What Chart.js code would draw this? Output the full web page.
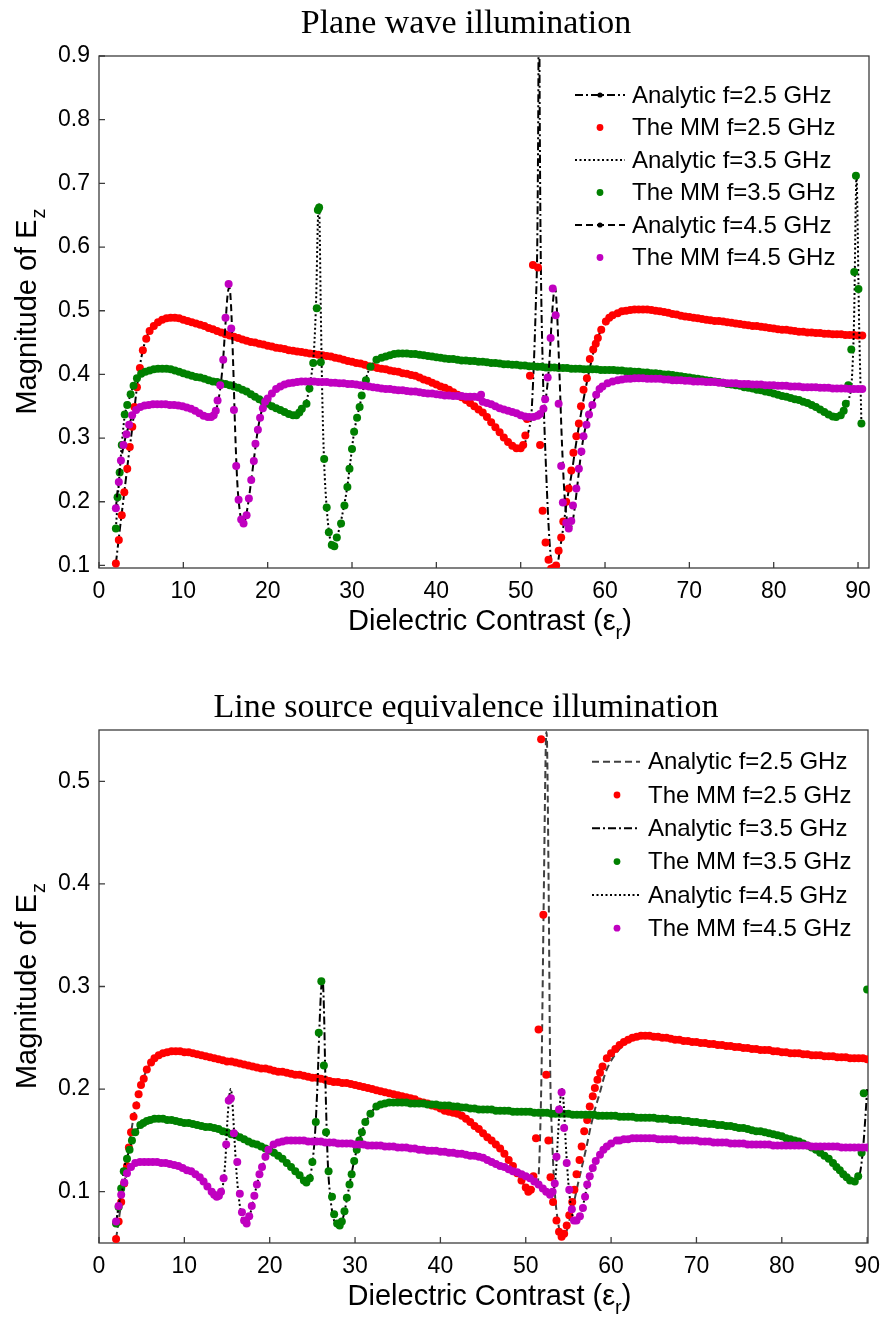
<!DOCTYPE html>
<html><head><meta charset="utf-8">
<script src="https://cdn.jsdelivr.net/npm/chart.js@4.4.1/dist/chart.umd.min.js"></script>
<style>
html,body{margin:0;padding:0;background:#fff;}
#wrap{position:relative;width:884px;height:1318px;background:#fff;}
canvas{position:absolute;left:0;}
</style></head><body>
<div id="wrap">
<canvas id="c1" width="884" height="660" style="top:0px"></canvas>
<canvas id="c2" width="884" height="658" style="top:660px"></canvas>
</div>
<script>
// ---------- tick labels ----------
const xTickVals = [0,10,20,30,40,50,60,70,80,90];
const topYTickVals = [0.1,0.2,0.3,0.4,0.5,0.6,0.7,0.8,0.9];
const botYTickVals = [0.1,0.2,0.3,0.4,0.5];
const legendLabels = ["Analytic f=2.5 GHz","The MM f=2.5 GHz","Analytic f=3.5 GHz","The MM f=3.5 GHz","Analytic f=4.5 GHz","The MM f=4.5 GHz"];

// ---------- TOP chart: plane wave ----------
const topMM25 = [[2.0,.103],[2.35,.14],[2.7,.179],[3.0,.215],[3.35,.252],[3.65,.286],[3.95,.318],[4.2,.349],[4.5,.38],[4.85,.41],[5.2,.438],[5.6,.456],[6.0,.468],[6.5,.476],[7.0,.482],[7.5,.486],[8.0,.488],[8.5,.489],[9.0,.489],[9.5,.488],[10,.486],[10.5,.484],[11,.482],[11.5,.48],[12,.478],[12.5,.476],[13,.473],[13.5,.471],[14,.468],[14.5,.466],[15,.463],[15.5,.461],[16,.459],[16.5,.457],[17,.455],[17.5,.453],[18,.451],[18.5,.45],[19,.448],[19.5,.447],[20,.445],[20.5,.444],[21,.442],[21.5,.441],[22,.44],[22.5,.438],[23,.437],[23.5,.436],[24,.435],[24.5,.434],[25,.433],[25.5,.432],[26,.431],[26.5,.43],[27,.429],[27.5,.428],[28,.426],[28.5,.425],[29,.423],[29.5,.421],[30,.42],[30.5,.418],[31,.417],[31.5,.415],[32,.413],[32.5,.412],[33,.41],[33.5,.409],[34,.408],[34.5,.406],[35,.405],[35.5,.404],[36,.402],[36.5,.401],[37,.399],[37.5,.398],[38,.395],[38.5,.392],[39,.39],[39.5,.387],[40,.384],[40.5,.381],[41,.379],[41.5,.376],[42,.372],[42.5,.368],[43,.364],[43.5,.36],[44,.355],[44.5,.35],[45,.345],[45.5,.34],[46,.333],[46.5,.325],[47,.317],[47.5,.309],[48,.301],[48.5,.294],[49,.288],[49.5,.284],[50,.284],[50.3,.289],[50.55,.304],[50.75,.33],[51.1,.398],[51.45,.572],[52.05,.568],[52.3,.289],[52.6,.186],[52.95,.136],[53.3,.109],[53.6,.095],[53.85,.096],[54.2,.1],[54.5,.123],[54.8,.144],[55.05,.169],[55.4,.2],[55.7,.221],[56.0,.249],[56.25,.277],[56.6,.303],[56.9,.323],[57.15,.35],[57.45,.376],[57.85,.394],[58.2,.424],[58.6,.439],[58.9,.448],[59.15,.457],[59.55,.47],[60.1,.483],[60.5,.489],[60.9,.493],[61.5,.496],[62,.499],[62.5,.5],[63,.501],[63.5,.502],[64,.502],[64.5,.502],[65,.502],[65.5,.501],[66,.5],[66.5,.499],[67,.498],[67.5,.497],[68,.495],[68.5,.494],[69,.492],[69.5,.491],[70,.49],[70.5,.489],[71,.488],[71.5,.487],[72,.486],[72.5,.485],[73,.484],[73.5,.484],[74,.483],[74.5,.482],[75,.481],[75.5,.48],[76,.479],[76.5,.478],[77,.477],[77.5,.476],[78,.476],[78.5,.475],[79,.474],[79.5,.473],[80,.472],[80.5,.471],[81,.47],[81.5,.47],[82,.469],[82.5,.468],[83,.467],[83.5,.467],[84,.466],[84.5,.466],[85,.465],[85.5,.465],[86,.464],[86.5,.464],[87,.463],[87.5,.463],[88,.463],[88.5,.462],[89,.462],[89.5,.462],[90,.461],[90.5,.461]];
const topAn25 = [[2.0,.103],[2.5,.16],[3.0,.215],[3.5,.27],[4.0,.322],[4.5,.38],[5.0,.425],[5.5,.453],[6.0,.468],[7.0,.482],[8.5,.489],[10,.486],[15,.463],[20,.445],[25,.433],[30,.42],[35,.405],[38,.395],[40,.384],[42,.372],[44,.355],[46,.333],[48,.301],[49,.288],[49.6,.284],[50.1,.286],[50.6,.296],[51.0,.315],[51.26,.336],[51.54,.41],[51.78,.504],[51.97,.61],[52.08,.8],[52.17,1.05],[52.26,.8],[52.36,.61],[52.64,.4],[53.04,.241],[53.43,.136],[53.83,.091],[54.1,.09],[54.35,.1],[54.6,.12],[55.0,.155],[55.4,.194],[56.0,.241],[56.6,.294],[57.4,.357],[58.2,.41],[58.96,.452],[59.5,.468],[60.1,.48],[61,.492],[62,.499],[64,.502],[66,.5],[70,.49],[75,.481],[80,.472],[85,.465],[90.5,.461]];
const topMM35 = [[2.0,.158],[2.2,.207],[2.45,.246],[2.7,.289],[3.05,.337],[3.35,.352],[3.75,.369],[4.1,.382],[4.5,.394],[5.0,.401],[5.5,.404],[6.0,.406],[6.5,.408],[7.0,.409],[7.5,.409],[8.0,.409],[8.5,.408],[9.0,.406],[9.5,.404],[10,.402],[10.5,.4],[11,.398],[11.5,.396],[12,.395],[12.5,.393],[13,.391],[13.5,.389],[14,.388],[14.5,.386],[15,.385],[15.5,.383],[16,.381],[16.5,.379],[17,.376],[17.5,.373],[18,.369],[18.5,.365],[19,.361],[19.5,.357],[20,.354],[20.5,.35],[21,.347],[21.5,.344],[22,.341],[22.5,.338],[23,.336],[23.4,.336],[23.75,.34],[24.05,.346],[24.6,.354],[24.95,.378],[25.4,.418],[25.82,.504],[25.95,.658],[26.1,.662],[26.3,.419],[26.7,.267],[27.0,.191],[27.25,.152],[27.6,.132],[27.9,.13],[28.2,.144],[28.7,.166],[29.1,.194],[29.45,.223],[29.7,.252],[30.0,.283],[30.25,.31],[30.6,.332],[30.9,.349],[31.15,.367],[31.65,.391],[32.2,.412],[32.9,.423],[33.5,.426],[34,.428],[34.5,.43],[35,.432],[35.5,.433],[36,.433],[36.5,.433],[37,.432],[37.5,.432],[38,.431],[38.5,.43],[39,.429],[39.5,.428],[40,.427],[40.5,.426],[41,.425],[41.5,.424],[42,.424],[42.5,.423],[43,.422],[43.5,.422],[44,.421],[44.5,.421],[45,.42],[45.5,.42],[46,.419],[46.5,.418],[47,.418],[47.5,.417],[48,.416],[48.5,.416],[49,.415],[49.5,.415],[50,.414],[50.5,.414],[51,.413],[51.5,.413],[52,.412],[52.5,.412],[53,.411],[53.5,.411],[54,.411],[54.5,.41],[55,.41],[55.5,.41],[56,.409],[56.5,.409],[57,.409],[57.5,.408],[58,.408],[58.5,.408],[59,.408],[59.5,.407],[60,.407],[60.5,.407],[61,.407],[61.5,.406],[62,.406],[62.5,.405],[63,.405],[63.5,.404],[64,.404],[64.5,.403],[65,.403],[65.5,.402],[66,.402],[66.5,.401],[67,.4],[67.5,.4],[68,.399],[68.5,.398],[69,.397],[69.5,.396],[70,.395],[70.5,.394],[71,.393],[71.5,.392],[72,.391],[72.5,.39],[73,.389],[73.5,.388],[74,.387],[74.5,.385],[75,.384],[75.5,.383],[76,.382],[76.5,.38],[77,.379],[77.5,.378],[78,.376],[78.5,.375],[79,.373],[79.5,.372],[80,.37],[80.5,.368],[81,.366],[81.5,.365],[82,.363],[82.5,.361],[83,.36],[83.5,.357],[84,.355],[84.5,.352],[85,.349],[85.5,.345],[86,.341],[86.5,.337],[87,.334],[87.4,.333],[87.95,.336],[88.3,.343],[88.55,.354],[88.85,.383],[89.2,.439],[89.55,.561],[89.75,.712],[90.05,.534],[90.4,.323]];
const topAn35 = [[2.0,.158],[2.5,.256],[3.0,.33],[3.5,.358],[4.0,.379],[4.5,.394],[5.5,.404],[7.5,.409],[9.0,.406],[12,.395],[15,.385],[17,.376],[19,.361],[21,.347],[23,.336],[23.5,.336],[24.0,.343],[24.5,.355],[24.9,.375],[25.2,.4],[25.5,.44],[25.75,.52],[25.95,.64],[26.05,.668],[26.15,.64],[26.3,.5],[26.5,.35],[26.7,.26],[27.0,.19],[27.3,.15],[27.6,.132],[27.9,.13],[28.2,.143],[28.6,.164],[29.0,.19],[29.4,.22],[29.8,.262],[30.2,.305],[30.6,.333],[31.0,.356],[31.5,.386],[32.0,.407],[32.6,.42],[33.5,.426],[35.5,.433],[37,.432],[40,.427],[45,.42],[50,.414],[55,.41],[60,.407],[65,.403],[70,.395],[75,.384],[80,.37],[83,.36],[85,.349],[86.5,.337],[87.4,.333],[88.0,.337],[88.5,.345],[88.9,.36],[89.3,.4],[89.55,.5],[89.72,.66],[89.82,.715],[89.92,.66],[90.1,.5],[90.4,.323]];
const topMM45 = [[2.0,.19],[2.35,.231],[2.6,.265],[2.9,.289],[3.25,.306],[3.57,.321],[3.93,.336],[4.4,.344],[4.9,.349],[5.4,.351],[5.9,.352],[6.4,.353],[6.9,.353],[7.4,.353],[7.9,.353],[8.4,.352],[8.9,.352],[9.4,.351],[9.9,.35],[10.4,.348],[10.9,.346],[11.4,.343],[11.9,.339],[12.4,.335],[12.9,.333],[13.3,.333],[13.6,.336],[13.85,.343],[14.06,.359],[14.37,.383],[14.73,.423],[15.0,.489],[15.37,.542],[15.68,.472],[16.0,.344],[16.27,.256],[16.55,.203],[16.86,.172],[17.14,.166],[17.5,.179],[17.77,.205],[18.05,.234],[18.36,.264],[18.55,.291],[18.84,.313],[19.1,.332],[19.43,.347],[19.7,.357],[20.0,.362],[20.5,.37],[21.0,.377],[21.5,.381],[22.0,.384],[22.5,.386],[23.0,.387],[23.5,.388],[24,.389],[24.5,.389],[25,.389],[25.5,.389],[26,.388],[26.5,.388],[27,.388],[27.5,.387],[28,.387],[28.5,.386],[29,.386],[29.5,.385],[30,.385],[30.5,.384],[31,.383],[31.5,.382],[32,.381],[32.5,.38],[33,.379],[33.5,.378],[34,.377],[34.5,.377],[35,.376],[35.5,.375],[36,.375],[36.5,.374],[37,.373],[37.5,.373],[38,.372],[38.5,.371],[39,.37],[39.5,.37],[40,.369],[40.5,.368],[41,.367],[41.5,.367],[42,.366],[42.5,.366],[43,.366],[43.5,.365],[44,.365],[44.5,.365],[45,.364],[45.3,.368],[45.5,.357],[46,.355],[46.5,.353],[47,.35],[47.5,.347],[48,.345],[48.5,.343],[49,.341],[49.5,.339],[50,.336],[50.5,.334],[51,.333],[51.5,.333],[52.0,.335],[52.3,.338],[52.7,.346],[52.9,.361],[53.2,.395],[53.55,.457],[53.8,.535],[54.15,.493],[54.5,.354],[54.8,.256],[55.0,.199],[55.4,.167],[55.7,.158],[56.0,.17],[56.2,.194],[56.6,.221],[56.9,.252],[57.2,.279],[57.45,.303],[57.8,.321],[58.1,.337],[58.5,.352],[58.95,.368],[59.35,.377],[59.7,.381],[60.3,.386],[60.9,.389],[61.5,.391],[62,.392],[62.5,.393],[63,.393],[63.5,.394],[64,.394],[64.5,.394],[65,.393],[65.5,.393],[66,.393],[66.5,.393],[67,.392],[67.5,.392],[68,.391],[68.5,.391],[69,.391],[69.5,.39],[70,.39],[70.5,.389],[71,.389],[71.5,.389],[72,.388],[72.5,.388],[73,.388],[73.5,.387],[74,.387],[74.5,.386],[75,.386],[75.5,.386],[76,.385],[76.5,.385],[77,.385],[77.5,.384],[78,.384],[78.5,.384],[79,.383],[79.5,.383],[80,.383],[80.5,.382],[81,.382],[81.5,.382],[82,.381],[82.5,.381],[83,.381],[83.5,.38],[84,.38],[84.5,.38],[85,.38],[85.5,.379],[86,.379],[86.5,.379],[87,.378],[87.5,.378],[88,.378],[88.5,.378],[89,.377],[89.5,.377],[90,.377],[90.5,.377]];
const topAn45 = [[2.0,.19],[2.5,.255],[3.0,.293],[3.5,.318],[4.0,.336],[4.5,.345],[5.5,.351],[7.5,.353],[9.5,.351],[11,.345],[12,.338],[12.9,.333],[13.4,.333],[13.8,.34],[14.1,.356],[14.4,.38],[14.7,.42],[15.0,.48],[15.25,.525],[15.45,.537],[15.65,.51],[15.9,.42],[16.15,.31],[16.4,.23],[16.7,.185],[17.0,.165],[17.25,.168],[17.6,.19],[18.0,.228],[18.4,.27],[18.8,.31],[19.2,.338],[19.6,.355],[20.0,.362],[21,.377],[22,.384],[24,.389],[26,.388],[30,.385],[35,.376],[40,.369],[45,.364],[46,.355],[48,.345],[50,.336],[51.5,.333],[52.3,.338],[52.8,.35],[53.1,.375],[53.4,.42],[53.7,.49],[53.95,.53],[54.1,.535],[54.3,.5],[54.6,.4],[54.9,.29],[55.2,.21],[55.5,.17],[55.8,.157],[56.1,.165],[56.4,.19],[56.8,.235],[57.1,.27],[57.5,.305],[57.9,.328],[58.3,.345],[58.8,.362],[59.3,.376],[59.8,.383],[60.5,.387],[62,.392],[64,.394],[70,.39],[80,.383],[90.5,.377]];

// ---------- BOTTOM chart: line source ----------
const botMM25 = [[2.0,.054],[2.3,.071],[2.6,.09],[2.95,.108],[3.28,.125],[3.5,.143],[3.75,.158],[4.05,.173],[4.37,.184],[4.64,.195],[4.92,.204],[5.24,.21],[5.6,.219],[6.1,.226],[6.5,.23],[7.0,.233],[7.5,.235],[8.0,.236],[8.5,.237],[9.0,.237],[9.5,.237],[10,.236],[10.5,.236],[11,.235],[11.5,.234],[12,.233],[12.5,.232],[13,.231],[13.5,.23],[14,.229],[14.5,.228],[15,.227],[15.5,.227],[16,.226],[16.5,.225],[17,.224],[17.5,.223],[18,.222],[18.5,.221],[19,.22],[19.5,.22],[20,.219],[20.5,.218],[21,.217],[21.5,.217],[22,.216],[22.5,.215],[23,.214],[23.5,.214],[24,.213],[24.5,.212],[25,.211],[25.5,.211],[26,.21],[26.5,.209],[27,.208],[27.5,.207],[28,.207],[28.5,.206],[29,.206],[29.5,.205],[30,.204],[30.5,.203],[31,.202],[31.5,.201],[32,.2],[32.5,.199],[33,.198],[33.5,.197],[34,.196],[34.5,.195],[35,.194],[35.5,.193],[36,.192],[36.5,.191],[37,.19],[37.5,.188],[38,.187],[38.5,.186],[39,.184],[39.5,.183],[40,.181],[40.5,.179],[41,.178],[41.5,.177],[42,.176],[42.5,.174],[43,.171],[43.5,.168],[44,.164],[44.5,.161],[45,.157],[45.5,.153],[46,.15],[46.5,.146],[47,.142],[47.5,.137],[48,.131],[48.5,.125],[49,.118],[49.5,.111],[50,.104],[50.3,.1],[50.6,.102],[50.9,.115],[51.2,.152],[51.5,.258],[51.8,.541],[52.06,.37],[52.4,.214],[52.65,.15],[52.9,.114],[53.2,.09],[53.6,.072],[53.9,.061],[54.2,.056],[54.5,.059],[54.8,.067],[55.1,.077],[55.45,.09],[55.7,.102],[55.95,.117],[56.3,.131],[56.55,.144],[56.85,.159],[57.2,.17],[57.5,.183],[57.85,.193],[58.1,.201],[58.4,.209],[58.7,.216],[59.0,.222],[59.5,.23],[60.0,.235],[60.5,.239],[61,.243],[61.5,.246],[62,.248],[62.5,.25],[63,.251],[63.5,.252],[64,.252],[64.5,.252],[65,.251],[65.5,.251],[66,.25],[66.5,.25],[67,.249],[67.5,.248],[68,.248],[68.5,.247],[69,.247],[69.5,.246],[70,.246],[70.5,.245],[71,.245],[71.5,.244],[72,.244],[72.5,.243],[73,.243],[73.5,.242],[74,.242],[74.5,.241],[75,.241],[75.5,.24],[76,.24],[76.5,.239],[77,.239],[77.5,.238],[78,.238],[78.5,.238],[79,.237],[79.5,.237],[80,.236],[80.5,.236],[81,.235],[81.5,.235],[82,.235],[82.5,.234],[83,.234],[83.5,.233],[84,.233],[84.5,.233],[85,.232],[85.5,.232],[86,.232],[86.5,.231],[87,.231],[87.5,.231],[88,.23],[88.5,.23],[89,.23],[89.5,.23],[90,.229]];
const botAn25 = [[2.0,.054],[2.5,.083],[3.0,.11],[3.5,.143],[4.0,.17],[4.5,.19],[5.0,.205],[5.5,.217],[6.5,.23],[8.5,.237],[10,.236],[15,.227],[20,.219],[25,.211],[30,.204],[35,.194],[38,.187],[40,.181],[42,.176],[44,.164],[46,.15],[48,.131],[49,.118],[50,.104],[50.5,.1],[51.0,.103],[51.3,.108],[51.5,.115],[51.7,.16],[51.87,.228],[52.1,.38],[52.35,.535],[52.42,.548],[52.5,.535],[52.7,.38],[52.85,.228],[53.1,.15],[53.4,.1],[53.7,.075],[54.0,.061],[54.3,.055],[54.8,.062],[55.2,.075],[55.6,.088],[56.1,.107],[56.6,.125],[57.1,.143],[57.6,.163],[58.1,.18],[58.7,.197],[59.3,.215],[59.9,.226],[60.5,.234],[61.2,.241],[62,.247],[63,.25],[64,.252],[66,.25],[70,.246],[75,.241],[80,.236],[85,.232],[90,.229]];
const botMM35 = [[2.0,.069],[2.3,.085],[2.6,.103],[2.9,.12],[3.28,.132],[3.58,.141],[3.86,.15],[4.25,.158],[4.84,.165],[5.2,.167],[5.6,.169],[6.0,.17],[6.5,.171],[7.0,.171],[7.5,.171],[8.0,.17],[8.5,.17],[9.0,.169],[9.5,.168],[10,.167],[10.5,.167],[11,.166],[11.5,.165],[12,.164],[12.5,.163],[13,.163],[13.5,.162],[14,.161],[14.5,.159],[15,.158],[15.5,.156],[16,.155],[16.5,.153],[17,.151],[17.5,.149],[18,.147],[18.5,.146],[19,.144],[19.5,.142],[20,.14],[20.5,.138],[21,.135],[21.5,.132],[22,.128],[22.5,.124],[23,.12],[23.5,.116],[24,.111],[24.3,.109],[24.7,.113],[25.0,.129],[25.4,.168],[25.75,.255],[26.05,.305],[26.35,.223],[26.6,.158],[26.9,.12],[27.3,.095],[27.55,.078],[27.9,.069],[28.2,.067],[28.45,.071],[28.76,.081],[29.04,.094],[29.35,.107],[29.6,.117],[29.9,.13],[30.2,.141],[30.5,.15],[30.8,.158],[31.2,.168],[31.8,.176],[32.5,.183],[33,.185],[33.5,.186],[34,.187],[34.5,.187],[35,.187],[35.5,.187],[36,.187],[36.5,.186],[37,.186],[37.5,.186],[38,.186],[38.5,.185],[39,.185],[39.5,.185],[40,.184],[40.5,.184],[41,.184],[41.5,.183],[42,.183],[42.5,.182],[43,.182],[43.5,.181],[44,.181],[44.5,.18],[45,.18],[45.5,.18],[46,.18],[46.5,.179],[47,.179],[47.5,.179],[48,.179],[48.5,.178],[49,.178],[49.5,.178],[50,.178],[50.5,.178],[51,.177],[51.5,.177],[52,.177],[52.5,.177],[53,.176],[53.5,.176],[54,.176],[54.5,.176],[55,.176],[55.5,.175],[56,.175],[56.5,.175],[57,.175],[57.5,.175],[58,.175],[58.5,.174],[59,.174],[59.5,.174],[60,.174],[60.5,.174],[61,.173],[61.5,.173],[62,.173],[62.5,.173],[63,.172],[63.5,.172],[64,.172],[64.5,.172],[65,.172],[65.5,.171],[66,.171],[66.5,.171],[67,.17],[67.5,.17],[68,.17],[68.5,.169],[69,.169],[69.5,.168],[70,.168],[70.5,.167],[71,.167],[71.5,.166],[72,.166],[72.5,.165],[73,.165],[73.5,.164],[74,.164],[74.5,.163],[75,.162],[75.5,.162],[76,.161],[76.5,.16],[77,.159],[77.5,.159],[78,.158],[78.5,.157],[79,.156],[79.5,.155],[80,.154],[80.5,.152],[81,.151],[81.5,.15],[82,.149],[82.5,.147],[83,.145],[83.5,.143],[84,.141],[84.5,.138],[85,.135],[85.5,.132],[86,.128],[86.4,.124],[86.8,.121],[87.2,.117],[87.6,.114],[88,.111],[88.55,.11],[88.95,.115],[89.35,.138],[89.6,.196],[90,.297]];
const botAn35 = [[2.0,.069],[2.5,.097],[3.0,.125],[3.5,.139],[4.0,.152],[4.5,.161],[5.5,.168],[7,.171],[10,.167],[15,.158],[20,.14],[22,.128],[23.5,.116],[24.3,.11],[24.7,.114],[25.0,.128],[25.3,.155],[25.6,.205],[25.85,.265],[26.05,.3],[26.2,.307],[26.35,.28],[26.55,.2],[26.8,.13],[27.1,.095],[27.45,.075],[27.8,.067],[28.1,.065],[28.4,.069],[28.8,.082],[29.2,.1],[29.6,.118],[30.0,.134],[30.4,.147],[30.8,.158],[31.2,.167],[31.8,.176],[32.5,.183],[34,.187],[36,.187],[40,.184],[45,.18],[50,.178],[55,.176],[60,.174],[65,.172],[70,.168],[75,.162],[80,.154],[83,.145],[85,.135],[86.8,.121],[88,.111],[88.6,.109],[89.0,.113],[89.3,.125],[89.6,.15],[89.85,.18],[90.0,.2]];
const botMM45 = [[2.0,.071],[2.3,.086],[2.6,.097],[2.96,.109],[3.28,.118],[3.75,.124],[4.25,.128],[4.8,.129],[5.3,.129],[5.8,.129],[6.3,.129],[6.8,.129],[7.3,.128],[7.8,.128],[8.3,.127],[8.8,.126],[9.3,.125],[9.8,.123],[10.3,.121],[10.8,.12],[11.3,.117],[11.8,.114],[12.25,.11],[12.7,.105],[13.2,.1],[13.5,.097],[13.8,.095],[14.05,.096],[14.3,.1],[14.6,.113],[14.9,.146],[15.2,.189],[15.45,.191],[15.8,.157],[16.2,.129],[16.5,.098],[16.75,.08],[17.0,.072],[17.3,.069],[17.6,.076],[17.9,.086],[18.2,.096],[18.5,.107],[18.8,.117],[19.1,.124],[19.5,.134],[19.85,.141],[20.45,.146],[21.0,.148],[21.5,.149],[22,.15],[22.5,.15],[23,.15],[23.5,.15],[24,.15],[24.5,.149],[25,.149],[25.5,.149],[26,.149],[26.5,.148],[27,.148],[27.5,.148],[28,.147],[28.5,.147],[29,.147],[29.5,.147],[30,.146],[30.5,.146],[31,.146],[31.5,.145],[32,.145],[32.5,.145],[33,.145],[33.5,.144],[34,.144],[34.5,.144],[35,.143],[35.5,.143],[36,.143],[36.5,.142],[37,.142],[37.5,.141],[38,.141],[38.5,.14],[39,.14],[39.5,.14],[40,.139],[40.5,.139],[41,.138],[41.5,.138],[42,.137],[42.5,.137],[43,.136],[43.5,.135],[44,.135],[44.5,.134],[45,.133],[45.5,.131],[46,.129],[46.5,.127],[47,.125],[47.5,.124],[48,.122],[48.5,.12],[49,.119],[49.5,.117],[50,.115],[50.5,.113],[51,.11],[51.5,.107],[52.0,.103],[52.4,.1],[52.85,.097],[53.15,.1],[53.4,.108],[53.6,.134],[53.9,.18],[54.2,.197],[54.5,.162],[54.8,.128],[55.1,.102],[55.4,.083],[55.65,.072],[55.95,.072],[56.35,.076],[56.7,.084],[56.95,.095],[57.2,.107],[57.5,.115],[57.85,.123],[58.2,.13],[58.7,.136],[59.1,.141],[59.5,.144],[60.0,.147],[60.65,.15],[61,.15],[61.5,.151],[62,.151],[62.5,.152],[63,.152],[63.5,.152],[64,.152],[64.5,.152],[65,.152],[65.5,.151],[66,.151],[66.5,.151],[67,.151],[67.5,.151],[68,.15],[68.5,.15],[69,.15],[69.5,.15],[70,.15],[70.5,.149],[71,.149],[71.5,.149],[72,.148],[72.5,.148],[73,.148],[73.5,.148],[74,.147],[74.5,.147],[75,.147],[75.5,.147],[76,.146],[76.5,.146],[77,.146],[77.5,.146],[78,.146],[78.5,.146],[79,.145],[79.5,.145],[80,.145],[80.5,.145],[81,.145],[81.5,.145],[82,.145],[82.5,.145],[83,.145],[83.5,.144],[84,.144],[84.5,.144],[85,.144],[85.5,.144],[86,.144],[86.5,.144],[87,.143],[87.5,.143],[88,.143],[88.5,.143],[89,.143],[89.5,.143],[90,.143]];
const botAn45 = [[2.0,.071],[2.5,.093],[3.0,.11],[3.5,.121],[4.0,.127],[5,.129],[7,.129],[9,.125],[11,.118],[12.25,.11],[13.2,.1],[13.8,.095],[14.2,.097],[14.5,.105],[14.8,.13],[15.05,.17],[15.3,.195],[15.45,.2],[15.6,.19],[15.85,.155],[16.1,.12],[16.4,.093],[16.7,.077],[17.0,.069],[17.3,.068],[17.6,.074],[17.9,.085],[18.2,.096],[18.5,.107],[18.8,.116],[19.2,.126],[19.6,.136],[20.0,.142],[20.5,.146],[21.5,.149],[23,.15],[26,.149],[30,.146],[35,.143],[40,.139],[44.5,.134],[46,.129],[48,.122],[50,.115],[52,.103],[52.8,.097],[53.2,.1],[53.5,.115],[53.75,.15],[54.0,.185],[54.25,.2],[54.45,.185],[54.7,.145],[55.0,.108],[55.3,.085],[55.6,.073],[55.9,.07],[56.2,.073],[56.6,.082],[56.9,.094],[57.2,.106],[57.5,.115],[57.9,.124],[58.3,.131],[58.8,.137],[59.5,.144],[60.6,.15],[63,.152],[70,.15],[80,.145],[90,.143]];

// ---------- helpers ----------
const SANS = '"Liberation Sans", Arial, Helvetica, sans-serif';
const SERIF = '"Liberation Serif", "Times New Roman", serif';
const RED = '#ff0000', GREEN = '#008000', MAG = '#c000c0';
const toXY = arr => arr.map(p => ({x: p[0], y: p[1]}));

function lineDS(arr, color, dash, order){
  return {data: toXY(arr), borderColor: color, borderWidth: 2, borderDash: dash,
    pointRadius: 0, fill: false, cubicInterpolationMode: 'monotone', order: order};
}
function dotDS(arr, color, order){
  return {data: toXY(arr), showLine: false, pointRadius: 4, pointBorderWidth: 0,
    pointBackgroundColor: color, pointBorderColor: color, borderColor: color, order: order};
}

const framePlugin = {
  id: 'frame',
  beforeDatasetsDraw(chart, args, o){
    const ctx = chart.ctx, a = chart.chartArea, xs = chart.scales.x, ys = chart.scales.y;
    ctx.save();
    ctx.strokeStyle = '#3c3c3c'; ctx.lineWidth = 1.3;
    ctx.strokeRect(a.left, a.top, a.right - a.left, a.bottom - a.top);
    ctx.beginPath();
    o.xTicks.forEach(v => { const px = xs.getPixelForValue(v); ctx.moveTo(px, a.bottom); ctx.lineTo(px, a.bottom - 6); });
    o.yTicks.forEach(v => { const py = ys.getPixelForValue(v); ctx.moveTo(a.left, py); ctx.lineTo(a.left + 6, py); });
    ctx.stroke();
    ctx.restore();
  },
  afterDraw(chart, args, o){
    const ctx = chart.ctx, a = chart.chartArea, xs = chart.scales.x, ys = chart.scales.y;
    ctx.save();
    ctx.fillStyle = '#000';
    // title
    ctx.font = '34px ' + SERIF; ctx.textAlign = 'center'; ctx.textBaseline = 'alphabetic';
    ctx.fillText(o.title, o.titleX, o.titleY);
    // tick labels
    ctx.font = '23px ' + SANS;
    ctx.textAlign = 'center';
    o.xTicks.forEach(v => ctx.fillText(String(v), xs.getPixelForValue(v), a.bottom + 30));
    ctx.textAlign = 'right'; ctx.textBaseline = 'middle';
    o.yTicks.forEach(v => ctx.fillText(v.toFixed(1), a.left - 9, ys.getPixelForValue(v)));
    // x title with subscript
    ctx.textBaseline = 'alphabetic'; ctx.textAlign = 'left';
    const big = '29px ' + SANS, small = '20px ' + SANS;
    ctx.font = big; const t1 = 'Dielectric Contrast (\u03b5'; const w1 = ctx.measureText(t1).width;
    ctx.font = small; const w2 = ctx.measureText('r').width;
    ctx.font = big; const w3 = ctx.measureText(')').width;
    let x0 = (a.left + a.right) / 2 + 6 - (w1 + w2 + w3) / 2, by = a.bottom + 62;
    ctx.fillText(t1, x0, by);
    ctx.font = small; ctx.fillText('r', x0 + w1, by + 9);
    ctx.font = big; ctx.fillText(')', x0 + w1 + w2, by);
    // y title rotated with subscript
    ctx.save();
    ctx.translate(26, (a.top + a.bottom) / 2); ctx.rotate(-Math.PI / 2);
    ctx.font = big; const m1 = 'Magnitude of E'; const mw = ctx.measureText(m1).width;
    ctx.font = small; const zw = ctx.measureText('z').width;
    const sx = -(mw + zw) / 2;
    ctx.font = big; ctx.fillText(m1, sx, 10);
    ctx.font = small; ctx.fillText('z', sx + mw + 1, 19);
    ctx.restore();
    // legend
    ctx.font = '24px ' + SANS; ctx.textAlign = 'left'; ctx.textBaseline = 'middle';
    o.legend.forEach((e, i) => {
      const y = o.legY0 + i * o.legDy;
      if (e.dot) {
        ctx.fillStyle = e.color; ctx.beginPath(); ctx.arc(o.legMid, y, 3.4, 0, Math.PI * 2); ctx.fill();
      } else {
        ctx.strokeStyle = e.color; ctx.lineWidth = 2; ctx.setLineDash(e.dash);
        ctx.beginPath(); ctx.moveTo(o.legL0, y); ctx.lineTo(o.legL1, y); ctx.stroke(); ctx.setLineDash([]);
        if (e.marker) { ctx.fillStyle = '#000'; ctx.beginPath(); ctx.arc(o.legMid, y, 2.6, 0, Math.PI * 2); ctx.fill(); }
      }
      ctx.fillStyle = '#000';
      ctx.fillText(legendLabels[i], o.legText, y + 1);
    });
    ctx.restore();
  }
};

function makeChart(id, datasets, xMax, yMin, yMax, pad, frameOpts){
  return new Chart(document.getElementById(id), {
    type: 'line',
    data: {datasets: datasets},
    options: {
      responsive: false, animation: false, devicePixelRatio: 1, events: [],
      parsing: false, normalized: true,
      layout: {padding: pad},
      plugins: {legend: {display: false}, tooltip: {enabled: false}, frame: frameOpts},
      scales: {
        x: {type: 'linear', min: 0, max: xMax, display: false},
        y: {type: 'linear', min: yMin, max: yMax, display: false}
      }
    },
    plugins: [framePlugin]
  });
}

const DASHDOT = [8, 3, 2, 3], DOTTED = [2, 2.5], DASHED = [7, 4];

makeChart('c1', [
  lineDS(topAn25, '#000', DASHDOT, 6),
  dotDS(topMM25, RED, 5),
  lineDS(topAn35, '#000', DOTTED, 4),
  dotDS(topMM35, GREEN, 3),
  lineDS(topAn45, '#000', DASHED, 2),
  dotDS(topMM45, MAG, 1)
], 91.3, 0.096, 0.9, {left: 99, right: 15, top: 56, bottom: 92}, {
  title: 'Plane wave illumination', titleX: 466, titleY: 33,
  xTicks: xTickVals, yTicks: topYTickVals,
  legY0: 95, legDy: 32.5, legL0: 575, legL1: 625, legMid: 600, legText: 632,
  legend: [
    {color: '#000', dash: DASHDOT, marker: true},
    {dot: true, color: RED},
    {color: '#000', dash: DOTTED},
    {dot: true, color: GREEN},
    {color: '#000', dash: DASHED, marker: true},
    {dot: true, color: MAG}
  ]
});

makeChart('c2', [
  lineDS(botAn25, '#404040', DASHED, 6),
  dotDS(botMM25, RED, 5),
  lineDS(botAn35, '#000', DASHDOT, 4),
  dotDS(botMM35, GREEN, 3),
  lineDS(botAn45, '#000', DOTTED, 2),
  dotDS(botMM45, MAG, 1)
], 90.1, 0.05, 0.55, {left: 99, right: 16, top: 70, bottom: 75}, {
  title: 'Line source equivalence illumination', titleX: 466, titleY: 57,
  xTicks: xTickVals, yTicks: botYTickVals,
  legY0: 101.7, legDy: 33.3, legL0: 592, legL1: 640, legMid: 617, legText: 648,
  legend: [
    {color: '#404040', dash: DASHED},
    {dot: true, color: RED},
    {color: '#000', dash: DASHDOT},
    {dot: true, color: GREEN},
    {color: '#000', dash: DOTTED},
    {dot: true, color: MAG}
  ]
});
</script>
</body></html>
